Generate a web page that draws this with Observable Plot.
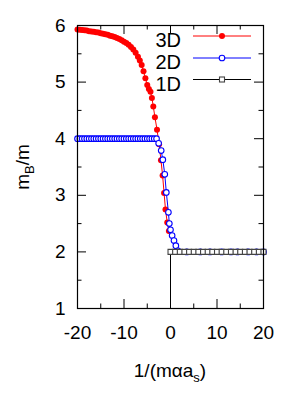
<!DOCTYPE html>
<html>
<head>
<meta charset="utf-8">
<script src="https://cdn.jsdelivr.net/npm/d3@7"></script>
<script src="https://cdn.jsdelivr.net/npm/@observablehq/plot@0.6"></script>
<style>
  html, body { margin: 0; padding: 0; background: white; }
  svg { display: block; }
</style>
</head>
<body>
<div id="chart"></div>
<script>
// ---- data ----
const x3D = [-20,-19.5,-19,-18.5,-18,-17.5,-17,-16.5,-16,-15.5,-15,-14.5,-14,-13.5,-13,-12.5,-12,-11.5,-11,-10.5,-10,-9.5,-9,-8.5,-8,-7.5,-7,-6.6,-6.2,-5.8,-5.4,-5.0,-4.65,-4.3,-4.0,-3.7,-3.35,-2.9,-2.45,-2.05,-1.7,-1.38,-1.08,-0.7,-0.35];
const y3D = [5.93,5.925,5.92,5.915,5.91,5.90,5.895,5.89,5.88,5.875,5.865,5.855,5.845,5.835,5.82,5.81,5.795,5.78,5.76,5.74,5.715,5.69,5.66,5.62,5.575,5.52,5.45,5.38,5.30,5.19,5.07,4.95,4.88,4.83,4.72,4.57,4.38,4.16,3.90,3.62,3.35,3.04,2.75,2.52,2.37];

const x2D = [-20,-19.5,-19,-18.5,-18,-17.5,-17,-16.5,-16,-15.5,-15,-14.5,-14,-13.5,-13,-12.5,-12,-11.5,-11,-10.5,-10,-9.5,-9,-8.5,-8,-7.5,-7,-6.5,-6,-5.5,-5,-4.5,-4,-3.5,-3,-2.55,-2.0,-1.65,-1.23,-0.9,-0.45,-0.25,0.0,0.35,0.75,1.15,1.6,3.5,6.4,8.5,11,13,14.4,16.7,18.5,20];
const y2D = [4,4,4,4,4,4,4,4,4,4,4,4,4,4,4,4,4,4,4,4,4,4,4,4,4,4,4,4,4,4,4,4,4,4,4,3.92,3.79,3.63,3.37,3.05,2.70,2.50,2.39,2.29,2.20,2.11,2.02,2,2,2,2,2,2,2,2,2];

const x1D = [0,0,1,2,3,4,5,6,7,8,9,10,11,12,13,14,15,16,17,18,19,20];
const y1D = [1,2,2,2,2,2,2,2,2,2,2,2,2,2,2,2,2,2,2,2,2,2];

const seriesNames = ["3D", "2D", "1D"];
const seriesColors = ["#ff0000", "#0000ff", "#000000"];

const xMajor = [-20, -10, 0, 10, 20];
const xMinor = [-15, -5, 5, 15];
const yMajor = [1, 2, 3, 4, 5, 6];
const yMinor = [1.5, 2.5, 3.5, 4.5, 5.5];

const d3D = x3D.map((x, i) => ({x, y: y3D[i]}));
const d2D = x2D.map((x, i) => ({x, y: y2D[i]}));
const d1D = x1D.map((x, i) => ({x, y: y1D[i]}));

const font = "'Liberation Sans', Arial, Helvetica, sans-serif";

const W = 300, H = 400, mL = 77, mR = 37, mT = 25, mB = 92;
const innerW = W - mL - mR, innerH = H - mT - mB;
const majorLen = 9, minorLen = 4.5;
const fmt = d => String(d);

const chart = Plot.plot({
  width: W,
  height: H,
  marginLeft: mL,
  marginRight: mR,
  marginTop: mT,
  marginBottom: mB,
  x: {domain: [-20, 20]},
  y: {domain: [1, 6]},
  style: {fontFamily: font, fontSize: "19px", color: "black", background: "white"},
  marks: [
    // tick labels
    Plot.axisX({ticks: xMajor, tickSize: 0, tickPadding: 17, fontSize: 19, tickFormat: fmt, label: null}),
    Plot.axisY({ticks: yMajor, tickSize: 0, tickPadding: 12, fontSize: 19, tickFormat: fmt, label: null}),
    // inward ticks (bottom / top)
    Plot.tickX(xMajor, {x: d => d, insetTop: innerH - majorLen, stroke: "black", strokeWidth: 1}),
    Plot.tickX(xMinor, {x: d => d, insetTop: innerH - minorLen, stroke: "black", strokeWidth: 1}),
    Plot.tickX(xMajor, {x: d => d, insetBottom: innerH - majorLen, stroke: "black", strokeWidth: 1}),
    Plot.tickX(xMinor, {x: d => d, insetBottom: innerH - minorLen, stroke: "black", strokeWidth: 1}),
    // inward ticks (left / right)
    Plot.tickY(yMajor, {y: d => d, insetRight: innerW - majorLen, stroke: "black", strokeWidth: 1}),
    Plot.tickY(yMinor, {y: d => d, insetRight: innerW - minorLen, stroke: "black", strokeWidth: 1}),
    Plot.tickY(yMajor, {y: d => d, insetLeft: innerW - majorLen, stroke: "black", strokeWidth: 1}),
    Plot.tickY(yMinor, {y: d => d, insetLeft: innerW - minorLen, stroke: "black", strokeWidth: 1}),
    // 3D
    Plot.line(d3D, {x: "x", y: "y", stroke: seriesColors[0], strokeWidth: 1}),
    Plot.dot(d3D, {x: "x", y: "y", r: 3, fill: seriesColors[0], stroke: "none"}),
    // 2D
    Plot.line(d2D, {x: "x", y: "y", stroke: seriesColors[1], strokeWidth: 1}),
    Plot.dot(d2D, {x: "x", y: "y", r: 2.8, fill: "white", stroke: seriesColors[1], strokeWidth: 1.1}),
    // 1D
    Plot.line(d1D, {x: "x", y: "y", stroke: seriesColors[2], strokeWidth: 1}),
    Plot.dot(d1D.filter(d => d.y > 1), {x: "x", y: "y", symbol: "square", r: 2.8, fill: "white", stroke: "#444", strokeWidth: 1.1}),
    Plot.frame({stroke: "black", strokeWidth: 1.2})
  ]
});

document.getElementById("chart").appendChild(chart);

// axis titles with subscripts
const svg = d3.select(chart);
const xt = svg.append("text")
  .attr("x", 170).attr("y", 377)
  .attr("text-anchor", "middle")
  .attr("font-family", font).attr("font-size", 19).attr("fill", "black");
xt.append("tspan").text("1/(mαa");
xt.append("tspan").attr("font-size", 13).attr("dy", 5).text("s");
xt.append("tspan").attr("dy", -5).text(")");

const yt = svg.append("text")
  .attr("transform", "translate(29,167) rotate(-90)")
  .attr("text-anchor", "middle")
  .attr("font-family", font).attr("font-size", 19).attr("fill", "black");
yt.append("tspan").text("m");
yt.append("tspan").attr("font-size", 13).attr("dy", 5).text("B");
yt.append("tspan").attr("dy", -5).text("/m");

// legend
const legendRows = [36, 58, 79.5];
const lg = svg.append("g");
seriesNames.forEach((name, i) => {
  const cy = legendRows[i];
  lg.append("text").attr("x", 181).attr("y", cy + 11)
    .attr("text-anchor", "end").attr("font-family", font).attr("font-size", 20)
    .attr("fill", "black").text(name);
  lg.append("line").attr("x1", 193).attr("x2", 251).attr("y1", cy).attr("y2", cy)
    .attr("stroke", seriesColors[i]).attr("stroke-width", 1);
  if (i === 0) {
    lg.append("circle").attr("cx", 222).attr("cy", cy).attr("r", 3).attr("fill", seriesColors[0]);
  } else if (i === 1) {
    lg.append("circle").attr("cx", 222).attr("cy", cy).attr("r", 2.8)
      .attr("fill", "white").attr("stroke", seriesColors[1]).attr("stroke-width", 1.1);
  } else {
    lg.append("rect").attr("x", 219.5).attr("y", cy - 2.5).attr("width", 5).attr("height", 5)
      .attr("fill", "white").attr("stroke", "#444").attr("stroke-width", 1.1);
  }
});
</script>
</body>
</html>
